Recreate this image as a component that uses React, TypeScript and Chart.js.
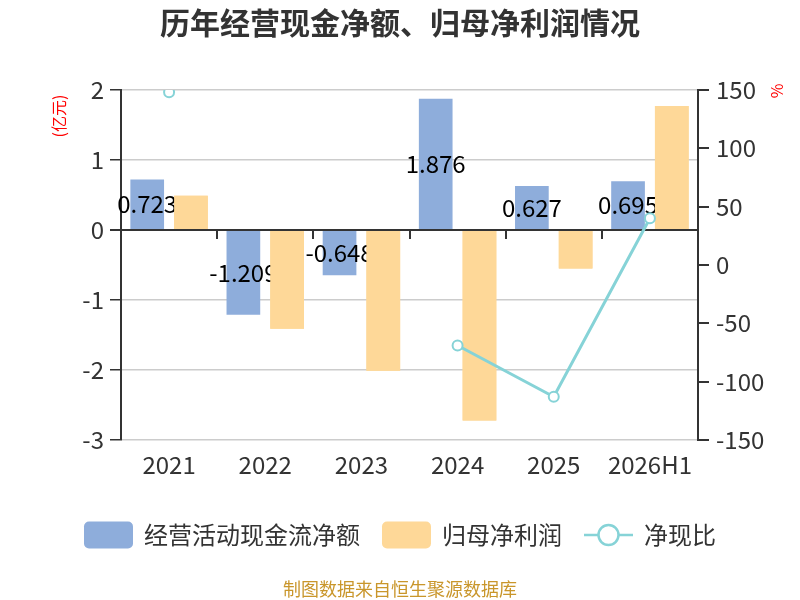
import React, { useEffect, useRef } from "react";
import { Chart, registerables } from "chart.js";

Chart.register(...registerables);

const FONT = '"Noto Sans CJK SC", "Microsoft YaHei", sans-serif';

const categories = ["2021", "2022", "2023", "2024", "2025", "2026H1"];
const cashFlow = [0.723, -1.209, -0.648, 1.876, 0.627, 0.695];
const netProfit = [0.49, -1.41, -2.01, -2.72, -0.55, 1.77];
const cashRatio: (number | null)[] = [148, null, null, -69, -113, 40];
const seriesNames = ["经营活动现金流净额", "归母净利润", "净现比"];
const titleText = "历年经营现金净额、归母净利润情况";
const sourceText = "制图数据来自恒生聚源数据库";
const leftAxisName = "(亿元)";
const rightAxisName = "%";

const BLUE = "#8eaddb";
const ORANGE = "#fed898";
const TEAL = "#86d3d7";

const decorPlugin = {
  id: "decor",
  beforeDatasetsDraw(chart: any) {
    const { ctx, chartArea, scales } = chart;
    const y0 = scales.y.getPixelForValue(0);
    ctx.save();
    ctx.strokeStyle = "#333";
    ctx.lineWidth = 2;
    ctx.beginPath();
    ctx.moveTo(chartArea.left, y0);
    ctx.lineTo(chartArea.right, y0);
    ctx.stroke();
    ctx.lineWidth = 2;
    for (let i = 1; i < categories.length; i++) {
      const x = Math.round((scales.x.getPixelForValue(i - 1) + scales.x.getPixelForValue(i)) / 2);
      ctx.beginPath();
      ctx.moveTo(x, y0);
      ctx.lineTo(x, y0 + 9);
      ctx.stroke();
    }
    ctx.restore();
  },
  afterDatasetDraw(chart: any, args: any) {
    if (args.index !== 0) return;
    const { ctx, chartArea } = chart;
    const meta = chart.getDatasetMeta(0);
    ctx.save();
    ctx.font = `24px ${FONT}`;
    ctx.fillStyle = "#000";
    ctx.textAlign = "center";
    ctx.textBaseline = "middle";
    meta.data.forEach((bar: any, i: number) => {
      const p = bar.getProps(["x", "y", "base"], true);
      ctx.fillText(String(cashFlow[i]), p.x, (p.y + p.base) / 2);
    });
    ctx.restore();
    // redraw second bar series so it covers the labels
    const m1 = chart.getDatasetMeta(1);
    ctx.save();
    ctx.beginPath();
    ctx.rect(chartArea.left, chartArea.top, chartArea.right - chartArea.left, chartArea.bottom - chartArea.top);
    ctx.clip();
    m1.data.forEach((el: any) => el.draw(ctx, chartArea));
    ctx.restore();
  },
  afterDraw(chart: any) {
    const { ctx } = chart;
    ctx.save();
    // title
    ctx.font = `bold 30px ${FONT}`;
    ctx.fillStyle = "#333";
    ctx.textAlign = "center";
    ctx.textBaseline = "middle";
    ctx.fillText(titleText, 400, 23);

    // axis names
    ctx.fillStyle = "#ff0000";
    ctx.font = `16px ${FONT}`;
    ctx.save();
    ctx.translate(59, 116);
    ctx.rotate(-Math.PI / 2);
    ctx.fillText(leftAxisName, 0, 0);
    ctx.restore();
    ctx.save();
    ctx.translate(777, 91);
    ctx.rotate(-Math.PI / 2);
    ctx.fillText(rightAxisName, 0, 0);
    ctx.restore();

    // legend
    ctx.font = `24px ${FONT}`;
    const boxW = 49;
    const boxH = 27;
    const gapText = 11;
    const gapItem = 22;
    const widths = seriesNames.map((n) => ctx.measureText(n).width);
    const total = boxW * 3 + gapText * 3 + widths.reduce((a, b) => a + b, 0) + gapItem * 2;
    let x = 400 - total / 2;
    const cy = 535;
    ctx.textAlign = "left";
    ctx.textBaseline = "middle";
    seriesNames.forEach((name, i) => {
      if (i < 2) {
        ctx.fillStyle = i === 0 ? BLUE : ORANGE;
        ctx.beginPath();
        (ctx as any).roundRect(x, cy - boxH / 2, boxW, boxH, 5);
        ctx.fill();
      } else {
        ctx.strokeStyle = TEAL;
        ctx.lineWidth = 2.5;
        ctx.beginPath();
        ctx.moveTo(x, cy);
        ctx.lineTo(x + boxW, cy);
        ctx.stroke();
        ctx.beginPath();
        ctx.arc(x + boxW / 2, cy, 10, 0, Math.PI * 2);
        ctx.fillStyle = "#fff";
        ctx.fill();
        ctx.stroke();
      }
      x += boxW + gapText;
      ctx.fillStyle = "#333";
      ctx.fillText(name, x, cy);
      x += widths[i] + gapItem;
    });

    // source
    ctx.font = `18px ${FONT}`;
    ctx.fillStyle = "#c9962b";
    ctx.textAlign = "center";
    ctx.fillText(sourceText, 400, 589);
    ctx.restore();
  },
};

export default function App() {
  const ref = useRef<HTMLCanvasElement | null>(null);
  useEffect(() => {
    if (!ref.current) return;
    Chart.defaults.font.family = FONT;
    const chart = new Chart(ref.current, {
      type: "bar",
      data: {
        labels: categories,
        datasets: [
          {
            type: "bar",
            label: seriesNames[0],
            data: cashFlow,
            backgroundColor: BLUE,
            yAxisID: "y",
            categoryPercentage: 0.91,
            barPercentage: 0.77,
          },
          {
            type: "bar",
            label: seriesNames[1],
            data: netProfit,
            backgroundColor: ORANGE,
            yAxisID: "y",
            categoryPercentage: 0.91,
            barPercentage: 0.77,
          },
          {
            type: "line",
            label: seriesNames[2],
            data: cashRatio,
            yAxisID: "y1",
            borderColor: TEAL,
            borderWidth: 3,
            pointRadius: 5,
            pointBorderWidth: 2,
            pointBackgroundColor: "#fff",
            pointBorderColor: TEAL,
            spanGaps: false,
            tension: 0,
            order: -1,
          } as any,
        ],
      },
      options: {
        animation: false,
        responsive: true,
        maintainAspectRatio: false,
        layout: { padding: { top: 90, left: 0, right: 0, bottom: 0 } },
        plugins: {
          legend: { display: false },
          title: { display: false },
          tooltip: { enabled: false },
        },
        scales: {
          x: {
            type: "category",
            grid: { display: false, drawTicks: false },
            border: { display: false },
            ticks: {
              font: { size: 24 },
              color: "#333",
              padding: 10,
              autoSkip: false,
              maxRotation: 0,
            },
            afterFit: (s: any) => {
              s.height = 160;
            },
          },
          y: {
            position: "left",
            min: -3,
            max: 2,
            ticks: { stepSize: 1, font: { size: 24 }, color: "#333", padding: 6 },
            grid: {
              color: (c: any) => (c.tick && c.tick.value === 0 ? "#333" : "#cccccc"),
              lineWidth: (c: any) => (c.tick && c.tick.value === 0 ? 2 : 1.5),
              tickColor: "#333",
              tickLength: 11,
            },
            border: { display: true, color: "#333", width: 2 },
            afterFit: (s: any) => {
              s.width = 121;
            },
          },
          y1: {
            position: "right",
            min: -150,
            max: 150,
            ticks: { stepSize: 50, font: { size: 24 }, color: "#333", padding: 7 },
            grid: { drawOnChartArea: false, tickColor: "#333", tickLength: 11, lineWidth: 2 },
            border: { display: true, color: "#333", width: 2 },
            afterFit: (s: any) => {
              s.width = 102;
            },
          },
        },
      } as any,
      plugins: [decorPlugin],
    });
    return () => chart.destroy();
  }, []);
  return (
    <div style={{ position: "absolute", left: 0, top: 0, width: 800, height: 600 }}>
      <canvas ref={ref} />
    </div>
  );
}
